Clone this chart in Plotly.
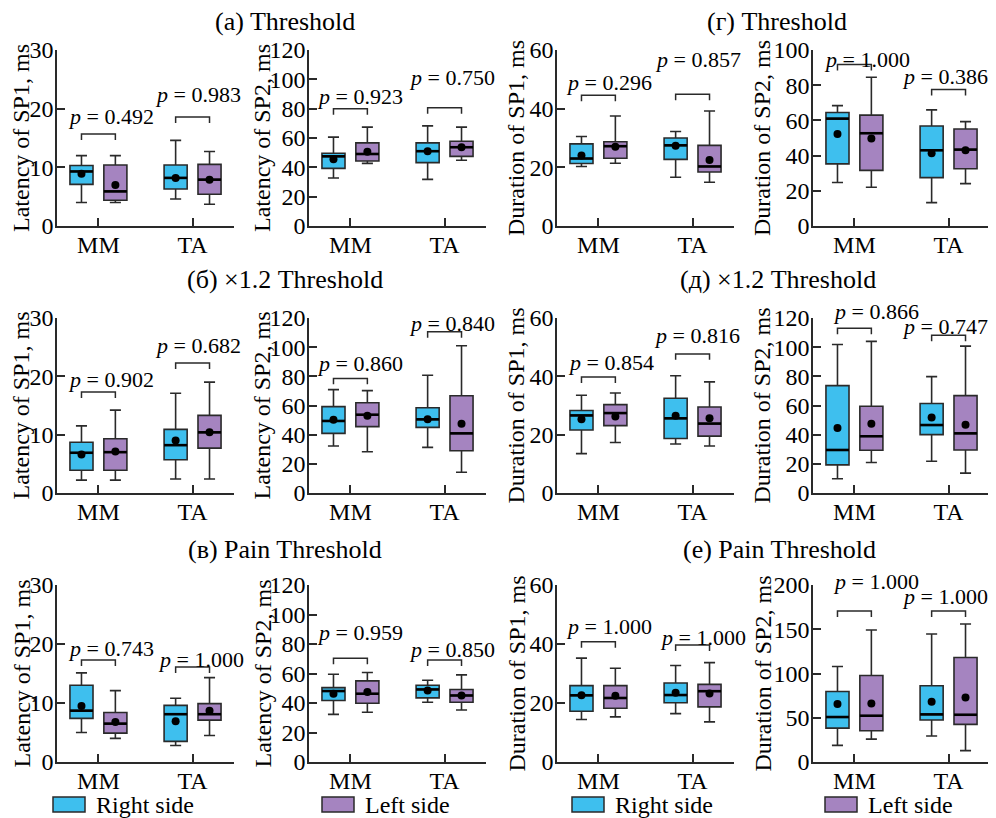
import plotly.graph_objects as go

PAGE_MARGIN = 8                      # browser body margin around the plot div
FIG_W, FIG_H = 996 - PAGE_MARGIN, 818 - PAGE_MARGIN
BLUE = "#3EBFEE"
PURPLE = "#A584C0"
LINE = "#2a2a2a"
FONT = "Liberation Serif, Times New Roman, serif"

CATEGORIES = ["MM", "TA"]
SIDE_NAMES = ["Right side", "Left side"]
# each box: [lowerfence, q1, median, q3, upperfence, mean]  for MM, TA

# (a) Threshold
a_lat1_right = [[4.0, 7.1, 9.3, 10.3, 12.0, 8.9], [4.6, 6.3, 8.2, 10.4, 14.6, 8.2]]
a_lat1_left = [[4.0, 4.4, 5.9, 10.4, 12.0, 7.0], [3.7, 5.4, 7.9, 10.5, 12.7, 7.9]]
a_lat2_right = [[32.7, 39.3, 47.5, 49.6, 60.6, 45.5], [31.8, 43.2, 51.0, 56.7, 68.3, 51.0]]
a_lat2_left = [[42.7, 44.3, 49.1, 56.7, 67.4, 50.7], [44.8, 47.5, 53.7, 57.8, 67.4, 53.7]]
# (г) Threshold
g_dur1_right = [[20.3, 21.3, 23.0, 28.0, 30.5, 24.0], [16.6, 22.7, 27.5, 30.0, 32.2, 27.4]]
g_dur1_left = [[21.4, 23.1, 27.2, 28.7, 37.5, 27.0], [14.9, 18.4, 20.3, 27.5, 39.2, 22.5]]
g_dur2_right = [[24.7, 35.3, 61.0, 64.5, 68.4, 52.3], [13.3, 27.5, 43.0, 56.8, 66.0, 41.3]]
g_dur2_left = [[22.0, 31.6, 52.7, 63.0, 84.5, 49.7], [24.1, 32.5, 43.4, 55.1, 59.3, 43.0]]
# (б) x1.2 Threshold
b_lat1_right = [[2.2, 3.9, 6.9, 8.7, 11.5, 6.6], [2.4, 5.7, 8.2, 10.9, 17.1, 9.0]]
b_lat1_left = [[2.2, 3.9, 7.0, 9.3, 14.2, 7.1], [2.4, 7.7, 10.4, 13.3, 19.0, 10.4]]
b_lat2_right = [[32.2, 40.9, 49.4, 59.2, 70.9, 50.3], [31.3, 45.0, 50.5, 58.5, 80.7, 50.5]]
b_lat2_left = [[28.3, 45.5, 53.7, 61.9, 70.2, 53.0], [14.2, 29.0, 40.9, 66.7, 101.0, 47.5]]
# (д) x1.2 Threshold
d_dur1_right = [[13.5, 21.6, 26.6, 28.3, 33.5, 25.3], [16.8, 18.7, 25.6, 32.5, 40.2, 26.5]]
d_dur1_left = [[17.3, 23.1, 27.4, 30.3, 34.3, 26.2], [16.1, 19.5, 23.8, 29.5, 38.1, 25.6]]
d_dur2_right = [[9.8, 19.3, 29.5, 73.6, 101.8, 44.5], [21.8, 40.0, 46.6, 61.4, 79.8, 51.8]]
d_dur2_left = [[20.9, 29.3, 38.9, 59.5, 104.0, 47.5], [13.6, 29.5, 40.9, 66.8, 100.7, 46.8]]
# (в) Pain Threshold
v_lat1_right = [[5.0, 7.4, 8.7, 13.0, 15.1, 9.5], [2.8, 3.5, 8.1, 9.6, 10.8, 6.9]]
v_lat1_left = [[4.0, 4.9, 6.5, 8.4, 12.1, 6.8], [4.5, 7.1, 8.1, 9.9, 14.3, 8.7]]
v_lat2_right = [[32.3, 41.7, 48.1, 50.4, 59.5, 46.3], [40.5, 43.5, 49.2, 52.0, 55.4, 48.5]]
v_lat2_left = [[33.7, 39.8, 46.3, 55.0, 60.7, 47.4], [35.3, 40.5, 45.1, 49.2, 59.1, 45.1]]
# (е) Pain Threshold
e_dur1_right = [[14.4, 17.2, 22.6, 25.9, 35.2, 22.6], [16.4, 20.1, 22.7, 26.8, 32.7, 23.5]]
e_dur1_left = [[15.3, 18.2, 21.7, 25.9, 31.8, 22.5], [13.6, 18.7, 24.0, 26.3, 33.7, 23.2]]
e_dur2_right = [[18.8, 38.3, 50.8, 79.7, 107.9, 65.4], [29.3, 47.4, 53.8, 86.1, 144.7, 68.0]]
e_dur2_left = [[25.9, 35.3, 52.3, 97.7, 149.2, 66.2], [12.8, 42.5, 53.4, 118.0, 156.0, 72.9]]

P_VALUES = [
    ["0.492", "0.983"], ["0.923", "0.750"], ["0.296", "0.857"], ["1.000", "0.386"],
    ["0.902", "0.682"], ["0.860", "0.840"], ["0.854", "0.816"], ["0.866", "0.747"],
    ["0.743", "1.000"], ["0.959", "0.850"], ["1.000", "1.000"], ["1.000", "1.000"],
]
Y_TITLES = ["Latency of SP1, ms", "Latency of SP2, ms", "Duration of SP1, ms", "Duration of SP2, ms"]
Y_MAX = [30, 120, 60, 100, 30, 120, 60, 120, 30, 120, 60, 200]
Y_DTICK = [10, 20, 20, 20, 10, 20, 20, 20, 10, 20, 20, 50]
PANEL_TITLES = ["(a) Threshold", "(г) Threshold", "(б) ×1.2 Threshold",
                "(д) ×1.2 Threshold", "(в) Pain Threshold", "(e) Pain Threshold"]

SERIES = [
    (a_lat1_right, a_lat1_left), (a_lat2_right, a_lat2_left),
    (g_dur1_right, g_dur1_left), (g_dur2_right, g_dur2_left),
    (b_lat1_right, b_lat1_left), (b_lat2_right, b_lat2_left),
    (d_dur1_right, d_dur1_left), (d_dur2_right, d_dur2_left),
    (v_lat1_right, v_lat1_left), (v_lat2_right, v_lat2_left),
    (e_dur1_right, e_dur1_left), (e_dur2_right, e_dur2_left),
]

# ---- layout positions (not data) ----
BRACKET_Y = [[15.7, 18.6], [80, 80.7], [44.6, 44.9], [91.8, 77.6],
             [17.3, 22.3], [78.6, 110.6], [39.8, 47.7], [113, 108.2],
             [17.3, 16.1], [70.3, 69.2], [40.8, 39.7], [170.7, 170.7]]
PTEXT_Y = [[18.6, 22.4], [88, 101], [49, 56.6], [94.6, 85.2],
           [19.4, 25.3], [88.5, 115.9], [44.9, 53.9], [124.5, 114.3],
           [19.2, 17.3], [88, 76], [45.8, 42.1], [204.5, 186.8]]
PTEXT_DX = [[13, 5], [10, 7], [11, 5], [13, -4],
            [13, 5], [10, 7], [13, 4], [22, -4],
            [13, 8], [10, 7], [11, 10], [22, -4]]
COL_X = [(57, 234), (309, 486), (557, 734), (813, 990)]
ROW_Y = [(50, 226), (318, 493), (585, 762)]
YTITLE_X = [21, 262, 516, 762]
TITLE_POS = [(285, 21), (777, 21), (285, 279), (778, 279), (285, 549), (779, 549)]
OFFSET = 0.18
BOX_W = 0.245


def px(xp):
    return (xp - PAGE_MARGIN) / FIG_W


def py(yp):
    return 1 - (yp - PAGE_MARGIN) / FIG_H


fig = go.Figure()
shapes = []
annotations = []
colors = [BLUE, PURPLE]
offsets = [-OFFSET, OFFSET]

for k, (series, pv) in enumerate(zip(SERIES, P_VALUES)):
    r, c = divmod(k, 4)
    ax = "" if k == 0 else str(k + 1)
    xref, yref = "x" + ax, "y" + ax
    for s, data in enumerate(series):
        xs = [i + offsets[s] for i in range(len(CATEGORIES))]
        fig.add_trace(go.Box(
            x=xs,
            lowerfence=[d[0] for d in data], q1=[d[1] for d in data],
            median=[d[2] for d in data], q3=[d[3] for d in data],
            upperfence=[d[4] for d in data],
            width=BOX_W, whiskerwidth=0.48, fillcolor=colors[s],
            line=dict(color=LINE, width=1.6), boxpoints=False,
            name=SIDE_NAMES[s], showlegend=False,
            xaxis=xref, yaxis=yref,
        ))
        # thicker black median line over each box
        mx, my = [], []
        for x, d in zip(xs, data):
            mx += [x - BOX_W / 2, x + BOX_W / 2, None]
            my += [d[2], d[2], None]
        fig.add_trace(go.Scatter(
            x=mx, y=my, mode="lines", line=dict(color="black", width=2.6),
            showlegend=False, hoverinfo="skip", xaxis=xref, yaxis=yref,
        ))
        fig.add_trace(go.Scatter(
            x=xs, y=[d[5] for d in data], mode="markers",
            marker=dict(color="black", size=8), showlegend=False,
            xaxis=xref, yaxis=yref, cliponaxis=False,
        ))
    ymax = Y_MAX[k]
    drop = ymax * 6 / 176
    for i in range(len(CATEGORIES)):
        x1, x2 = i - OFFSET, i + OFFSET
        yb = BRACKET_Y[k][i]
        shapes.append(dict(type="path", xref=xref, yref=yref,
                           path=f"M{x1},{yb - drop} L{x1},{yb} L{x2},{yb} L{x2},{yb - drop}",
                           line=dict(color=LINE, width=1.5)))
        annotations.append(dict(x=i, y=PTEXT_Y[k][i] / ymax, xref=xref, yref=yref + " domain",
                                text=f"<i>p</i> = {pv[i]}", showarrow=False,
                                xshift=PTEXT_DX[k][i], yanchor="middle",
                                font=dict(family=FONT, size=22, color="black")))
    x0, x1p = COL_X[c]
    y0, y1p = ROW_Y[r]
    axis_common = dict(showline=True, linecolor=LINE, linewidth=1.5, ticks="inside",
                       ticklen=8, tickwidth=1.5, tickcolor=LINE, showgrid=False,
                       zeroline=False, automargin=False,
                       tickfont=dict(family=FONT, size=24, color="black"))
    fig.layout["xaxis" + ax] = dict(domain=[px(x0), px(x1p)], anchor=yref,
                                    range=[-0.44, 1.44], tickvals=list(range(len(CATEGORIES))),
                                    ticktext=CATEGORIES, fixedrange=True,
                                    ticklabelstandoff=-4, **axis_common)
    fig.layout["yaxis" + ax] = dict(domain=[py(y1p), py(y0)], anchor=xref,
                                    range=[0, ymax], dtick=Y_DTICK[k],
                                    ticklabelstandoff=-3, **axis_common)
    # y-axis title (rotated), placed like the reference
    annotations.append(dict(x=px(YTITLE_X[c]), y=py((y0 + y1p) / 2), xref="paper", yref="paper",
                            text=Y_TITLES[c], textangle=-90, showarrow=False,
                            xanchor="center", yanchor="middle", borderpad=0,
                            font=dict(family=FONT, size=24, color="black")))

for t, (tx, ty) in zip(PANEL_TITLES, TITLE_POS):
    annotations.append(dict(x=px(tx), y=py(ty), xref="paper", yref="paper",
                            text=t, showarrow=False, xanchor="center", yanchor="middle",
                            borderpad=0, font=dict(family=FONT, size=26, color="black")))

# legend
LEGEND_ITEMS = [(53, 0), (322, 1), (572, 0), (825, 1)]
for lx, s in LEGEND_ITEMS:
    shapes.append(dict(type="rect", xref="paper", yref="paper",
                       x0=px(lx), x1=px(lx + 32), y0=py(812), y1=py(797),
                       fillcolor=colors[s], line=dict(color=LINE, width=1.5)))
    annotations.append(dict(x=px(lx + 41), y=py(805), xref="paper", yref="paper",
                            text=SIDE_NAMES[s], showarrow=False, xanchor="left", yanchor="middle",
                            font=dict(family=FONT, size=24, color="black")))

fig.update_layout(width=FIG_W, height=FIG_H,
                  margin=dict(l=0, r=0, t=0, b=0, pad=0, autoexpand=False),
                  plot_bgcolor="white", paper_bgcolor="white", showlegend=False,
                  shapes=shapes, annotations=annotations,
                  font=dict(family=FONT, color="black"))
fig.write_html("out.html")
